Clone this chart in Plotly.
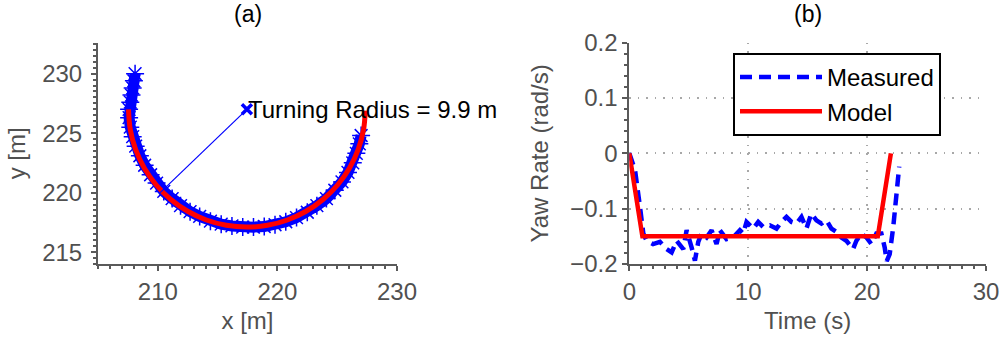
import plotly.graph_objects as go

# ---------------- (a) trajectory data ----------------
meas_x = [208.1, 208.0, 207.9, 207.8, 207.7, 207.6, 207.6, 207.7, 207.9, 208.15, 208.5, 208.9,
          209.4, 209.9, 210.5, 211.2, 211.9, 212.7, 213.5, 214.4, 215.3, 216.2, 217.1, 218.0,
          218.9, 219.8, 220.7, 221.6, 222.5, 223.3, 224.1, 224.8, 225.4, 225.9, 226.3, 226.6,
          226.85, 227.0]
meas_y = [230.0, 229.4, 228.8, 228.2, 227.6, 227.0, 226.3, 225.5, 224.7, 223.9, 223.1, 222.3,
          221.5, 220.8, 220.1, 219.5, 218.9, 218.4, 218.0, 217.6, 217.35, 217.2, 217.1, 217.1,
          217.15, 217.3, 217.55, 217.9, 218.35, 218.9, 219.5, 220.2, 220.9, 221.7, 222.5, 223.3,
          224.1, 224.8]

model_x = [207.55, 207.7, 208.15, 208.88, 209.87, 211.09, 212.5, 214.06, 215.73, 217.45,
           219.17, 220.84, 222.4, 223.81, 225.03, 226.02, 226.75, 227.2, 227.35]
model_y = [227.0, 225.28, 223.61, 222.05, 220.64, 219.42, 218.43, 217.7, 217.25, 217.1,
           217.25, 217.7, 218.43, 219.42, 220.64, 222.05, 223.61, 225.28, 226.9]

center_x = [217.45]
center_y = [227.0]
radius_x = [217.45, 210.2]
radius_y = [227.0, 220.0]
radius_label = "Turning Radius = 9.9 m"

# ---------------- (b) yaw-rate data ----------------
t_meas = [0.0, 0.48, 0.9, 1.18, 1.46, 2.0, 2.58, 3.14, 3.56, 3.98, 4.54, 4.82, 5.24, 5.52, 5.8,
          6.08, 6.5, 6.92, 7.34, 7.62, 8.18, 8.74, 9.3, 9.58, 9.86, 10.42, 10.84, 11.26, 11.82,
          12.38, 12.8, 13.22, 13.64, 14.06, 14.48, 14.9, 15.3, 15.74, 16.16, 16.58, 17.0, 17.42,
          17.84, 18.26, 18.82, 19.1, 19.5, 19.94, 20.36, 20.78, 21.2, 21.48, 21.65, 21.9, 22.2,
          22.46, 22.7]
yaw_meas = [0.0, -0.03, -0.097, -0.145, -0.158, -0.164, -0.16, -0.173, -0.179, -0.158, -0.173,
            -0.139, -0.17, -0.194, -0.16, -0.145, -0.152, -0.139, -0.164, -0.139, -0.155, -0.152,
            -0.139, -0.145, -0.124, -0.136, -0.124, -0.133, -0.13, -0.136, -0.124, -0.115, -0.124,
            -0.127, -0.115, -0.136, -0.109, -0.121, -0.127, -0.121, -0.136, -0.142, -0.152,
            -0.158, -0.173, -0.158, -0.145, -0.152, -0.164, -0.145, -0.145, -0.17, -0.195,
            -0.182, -0.133, -0.073, -0.024]
t_model = [0.0, 1.1, 20.9, 22.0]
yaw_model = [0.0, -0.15, -0.15, 0.0]

FONT = "Liberation Sans, Arial, sans-serif"
GRAY = "#505050"
AXC = "#5a5a5a"
FS = 24

fig = go.Figure()

# (a)
fig.add_trace(go.Scatter(x=meas_x, y=meas_y, mode="lines+markers", xaxis="x", yaxis="y",
                         line=dict(color="#0000ff", width=11),
                         marker=dict(symbol="asterisk-open", size=15, color="#0000ff",
                                     line=dict(color="#0000ff", width=1.5)),
                         showlegend=False, hoverinfo="skip"))
fig.add_trace(go.Scatter(x=model_x, y=model_y, mode="lines", xaxis="x", yaxis="y",
                         line=dict(color="#ff0000", width=5, shape="spline"),
                         showlegend=False, hoverinfo="skip"))
fig.add_trace(go.Scatter(x=radius_x, y=radius_y, mode="lines", xaxis="x", yaxis="y",
                         line=dict(color="#0000ff", width=1.2),
                         showlegend=False, hoverinfo="skip"))
fig.add_trace(go.Scatter(x=center_x, y=center_y, mode="markers", xaxis="x", yaxis="y",
                         marker=dict(symbol="x-thin-open", size=10, color="#0000ff",
                                     line=dict(color="#0000ff", width=3.5)),
                         showlegend=False, hoverinfo="skip"))

# (b)
fig.add_trace(go.Scatter(x=t_meas, y=yaw_meas, mode="lines", name="Measured", xaxis="x2", yaxis="y2",
                         line=dict(color="#0000ff", width=4.5, dash="12px,7px")))
fig.add_trace(go.Scatter(x=t_model, y=yaw_model, mode="lines", name="Model", xaxis="x2", yaxis="y2",
                         line=dict(color="#ff0000", width=4.5)))

W, H = 1001, 343
ytop, ybot = 1 - 42.7 / H, 1 - 264 / H

common = dict(showline=True, linecolor=AXC, linewidth=2, ticks="outside", tickcolor=AXC,
              ticklen=5, tickwidth=1.5, tickfont=dict(size=FS, color=GRAY, family=FONT),
              zeroline=False, showgrid=False, automargin=False)

fig.update_layout(
    width=W, height=H, margin=dict(l=0, r=0, t=0, b=0),
    paper_bgcolor="white", plot_bgcolor="white",
    font=dict(family=FONT, color=GRAY),
    xaxis=dict(domain=[98 / W, 397 / W], range=[205, 230], tickvals=[210, 220, 230],
               minor=dict(dtick=1, ticks="outside", ticklen=3, tickcolor=AXC),
               title=dict(text="x [m]", font=dict(size=FS, color=GRAY), standoff=8),
               anchor="y", **common),
    yaxis=dict(domain=[ybot, ytop], range=[214.0, 232.6], tickvals=[215, 220, 225, 230],
               minor=dict(dtick=0.5, ticks="outside", ticklen=3, tickcolor=AXC),
               title=dict(text="y [m]", font=dict(size=FS, color=GRAY), standoff=10),
               ticklabelstandoff=4,
               anchor="x", **common),
    xaxis2=dict(domain=[629.3 / W, 986 / W], range=[0, 30], tickvals=[0, 10, 20, 30],
                minor=dict(dtick=1, ticks="outside", ticklen=3, tickcolor=AXC),
                title=dict(text="Time (s)", font=dict(size=FS, color=GRAY), standoff=8),
                anchor="y2", **{**common, "showgrid": True}, gridcolor="#a8a8a8", gridwidth=1.5,
                griddash="1.5px,7px"),
    yaxis2=dict(domain=[ybot, ytop], range=[-0.2, 0.2], tickvals=[-0.2, -0.1, 0, 0.1, 0.2],
                ticktext=["\u22120.2", "\u22120.1", "0", "0.1", "0.2"],
                minor=dict(dtick=0.02, ticks="outside", ticklen=3, tickcolor=AXC),
                title=dict(text="Yaw Rate (rad/s)", font=dict(size=FS, color=GRAY), standoff=15),
                anchor="x2", **{**common, "showgrid": True}, gridcolor="#a8a8a8", gridwidth=1.5,
                griddash="1.5px,7px"),
    legend=dict(x=733 / W, y=1 - 53 / H, xanchor="left", yanchor="top",
                bgcolor="white", bordercolor="black", borderwidth=2,
                font=dict(size=FS, color="black", family=FONT), itemwidth=82,
                tracegroupgap=0),
    annotations=[
        dict(text="(a)", x=(98 + 397) / 2 / W, y=1 - 14 / H, xref="paper", yref="paper",
             showarrow=False, xanchor="center", yanchor="middle",
             font=dict(size=23, color="black", family=FONT)),
        dict(text="(b)", x=(629.3 + 986) / 2 / W, y=1 - 14 / H, xref="paper", yref="paper",
             showarrow=False, xanchor="center", yanchor="middle",
             font=dict(size=23, color="black", family=FONT)),
        dict(text=radius_label, x=center_x[0], y=center_y[0], xref="x", yref="y",
             showarrow=False, xanchor="left", yanchor="middle", xshift=-1,
             font=dict(size=FS, color="black", family=FONT)),
    ],
)

fig.write_html("out.html")
